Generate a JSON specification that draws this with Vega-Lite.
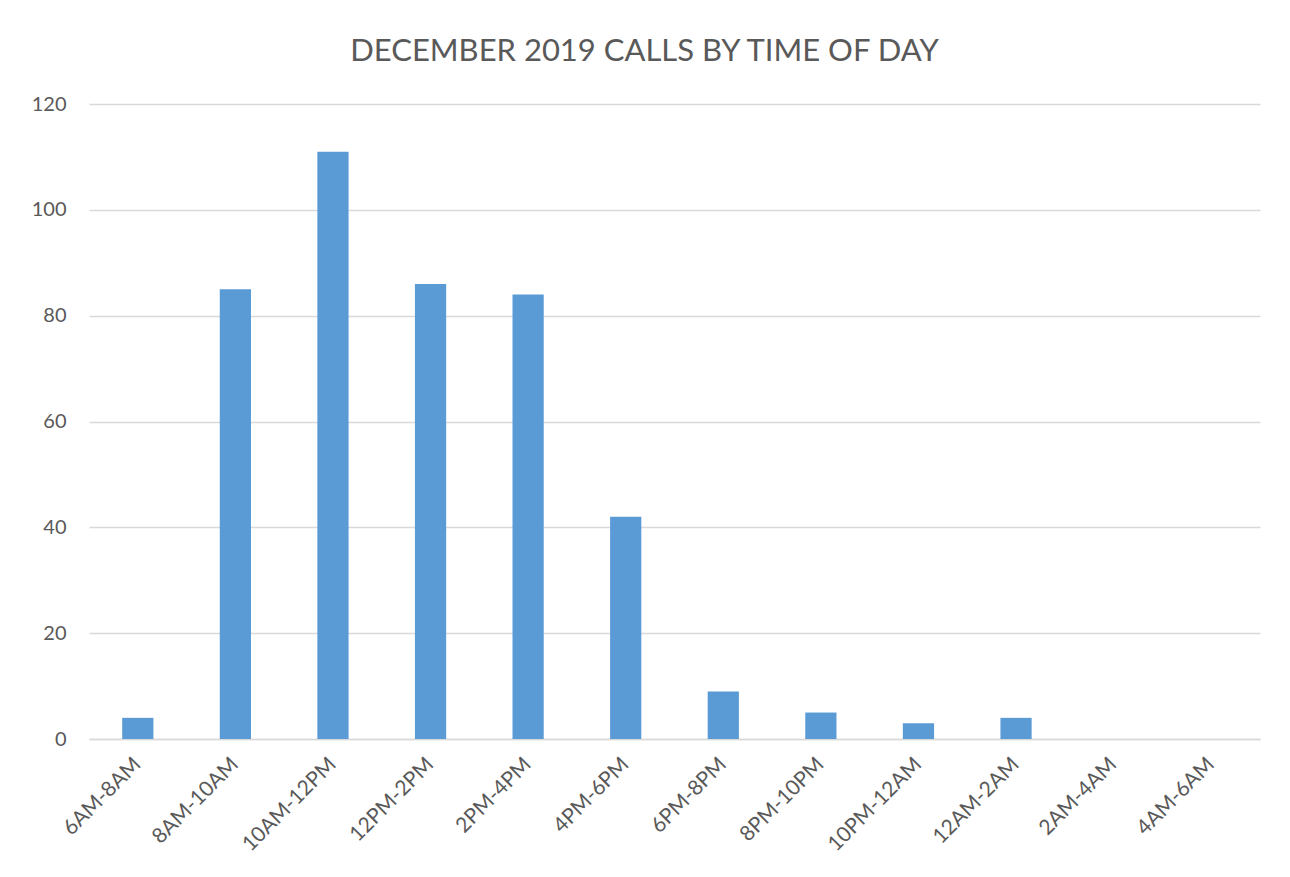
{
  "$schema": "https://vega.github.io/schema/vega-lite/v6.json",
  "width": 1171,
  "height": 635,
  "padding": {"left": 89, "top": 104, "right": 30, "bottom": 138},
  "autosize": {"type": "none"},
  "background": "#ffffff",
  "title": {
    "text": "DECEMBER 2019 CALLS BY TIME OF DAY",
    "font": "Lato",
    "fontSize": 31,
    "fontWeight": "normal",
    "color": "#595959",
    "anchor": "middle",
    "offset": 26,
    "dx": -30
  },
  "data": {
    "values": [
      {"slot": "6AM-8AM", "calls": 4},
      {"slot": "8AM-10AM", "calls": 85},
      {"slot": "10AM-12PM", "calls": 111},
      {"slot": "12PM-2PM", "calls": 86},
      {"slot": "2PM-4PM", "calls": 84},
      {"slot": "4PM-6PM", "calls": 42},
      {"slot": "6PM-8PM", "calls": 9},
      {"slot": "8PM-10PM", "calls": 5},
      {"slot": "10PM-12AM", "calls": 3},
      {"slot": "12AM-2AM", "calls": 4},
      {"slot": "2AM-4AM", "calls": 0},
      {"slot": "4AM-6AM", "calls": 0}
    ]
  },
  "mark": {"type": "bar", "color": "#5B9BD5"},
  "encoding": {
    "x": {
      "field": "slot",
      "type": "nominal",
      "sort": null,
      "title": null,
      "scale": {"paddingInner": 0.68, "paddingOuter": 0.34},
      "axis": {
        "labelAngle": -45,
        "labelAlign": "right",
        "labelBaseline": "middle",
        "labelFont": "Lato",
        "labelFontSize": 21,
        "labelColor": "#595959",
        "labelPadding": 22,
        "ticks": false,
        "domainColor": "#D9D9D9",
        "domainWidth": 1.5,
        "grid": false
      }
    },
    "y": {
      "field": "calls",
      "type": "quantitative",
      "title": null,
      "scale": {"domain": [0, 120]},
      "axis": {
        "values": [0, 20, 40, 60, 80, 100, 120],
        "labelFont": "Lato",
        "labelFontSize": 20,
        "labelColor": "#595959",
        "labelPadding": 23,
        "ticks": false,
        "domain": false,
        "gridColor": "#D9D9D9",
        "gridWidth": 1.5
      }
    }
  },
  "config": {"view": {"stroke": null}}
}
